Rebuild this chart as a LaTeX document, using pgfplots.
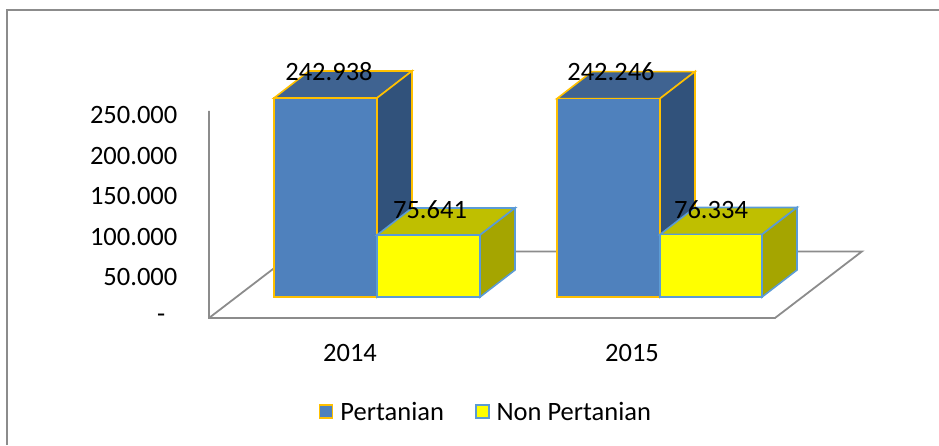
\documentclass[border=0pt]{standalone}
\usepackage{pgfplots}
\pgfplotsset{compat=1.18}
\usepackage{fontspec}
\setmainfont{Carlito}
\definecolor{fb}{HTML}{4F81BD}\definecolor{tb}{HTML}{3F6391}\definecolor{sb}{HTML}{31527B}
\definecolor{fy}{HTML}{FFFF00}\definecolor{ty}{HTML}{BFBF00}\definecolor{sy}{HTML}{A5A500}
\definecolor{eo}{HTML}{FFC000}\definecolor{eb}{HTML}{5B9BD5}\definecolor{gr}{HTML}{8C8C8C}
\newcommand{\fs}{\fontsize{26.5}{28}\selectfont}
\begin{document}
\begin{tikzpicture}
\useasboundingbox (0pt,0pt) rectangle (939pt,445pt);
\draw[gr,line width=2pt] (7pt,0pt) -- (7pt,435pt) -- (939pt,435pt);
% floor and wall axis: 0 lies at pixel row 318
\begin{axis}[at={(0pt,127pt)},anchor=south west,scale only axis,width=939pt,height=318pt,
  xmin=0,xmax=939,ymin=0,ymax=391600,clip=false,
  axis x line=bottom,axis y line=left,axis line style={draw=none},
  scaled y ticks=false,
  ytick={0,50000,100000,150000,200000,250000},
  yticklabels={\raisebox{-5pt}{-}\rule{12pt}{0pt},50.000,100.000,150.000,200.000,250.000},
  xtick={350,632},xticklabels={2014,2015},
  tick style={draw=none},
  ticklabel style={font=\fs},
  y tick label style={anchor=east,xshift=183pt},
  x tick label style={anchor=center,yshift=-33pt}]
\addplot[gr,line width=1.8pt] coordinates {(209,255000)(209,0)(775,0)(862,82000)(510,82000)};
\addplot[gr,line width=1.8pt] coordinates {(209,0)(296,82000)};
\end{axis}
% bars: value 0 lies at pixel row 297
\begin{axis}[at={(0pt,0pt)},anchor=south west,scale only axis,width=939pt,height=445pt,
  xmin=0,xmax=939,ymin=-180686,ymax=362593,axis lines=none,clip=false,
  scaled y ticks=false,
  legend columns=2,
  legend style={at={(0.5175,0.074)},anchor=center,draw=none,fill=none,
    font=\fs,/tikz/every even column/.style={column sep=29pt},
    /tikz/every odd column/.style={column sep=5pt}},
  legend image code/.code={\draw[#1,line width=1.6pt] (0pt,-6pt) rectangle (13pt,7pt);}]
% 2014 blue
\addplot[fill=tb,draw=eo,line width=1.6pt,forget plot] coordinates {(274,242938)(309,275900)(412,275900)(377,242938)} --cycle;
\addplot[fill=sb,draw=eo,line width=1.6pt,forget plot] coordinates {(377,0)(412,32963)(412,275900)(377,242938)} --cycle;
\addplot[fill=fb,draw=eo,line width=1.6pt] coordinates {(274,0)(377,0)(377,242938)(274,242938)} --cycle;
\addlegendentry{Pertanian}
% 2014 yellow
\addplot[fill=ty,draw=eb,line width=1.6pt,forget plot] coordinates {(377,75641)(412,108604)(515,108604)(480,75641)} --cycle;
\addplot[fill=sy,draw=eb,line width=1.6pt,forget plot] coordinates {(480,0)(515,32963)(515,108604)(480,75641)} --cycle;
\addplot[fill=fy,draw=eb,line width=1.6pt] coordinates {(377,0)(480,0)(480,75641)(377,75641)} --cycle;
\addlegendentry{Non Pertanian}
% 2015 blue
\addplot[fill=tb,draw=eo,line width=1.6pt,forget plot] coordinates {(557,242246)(592,275209)(695,275209)(660,242246)} --cycle;
\addplot[fill=sb,draw=eo,line width=1.6pt,forget plot] coordinates {(660,0)(695,32963)(695,275209)(660,242246)} --cycle;
\addplot[fill=fb,draw=eo,line width=1.6pt,forget plot] coordinates {(557,0)(660,0)(660,242246)(557,242246)} --cycle;
% 2015 yellow
\addplot[fill=ty,draw=eb,line width=1.6pt,forget plot] coordinates {(660,76334)(695,109297)(797,109297)(762,76334)} --cycle;
\addplot[fill=sy,draw=eb,line width=1.6pt,forget plot] coordinates {(762,0)(797,32963)(797,109297)(762,76334)} --cycle;
\addplot[fill=fy,draw=eb,line width=1.6pt,forget plot] coordinates {(660,0)(762,0)(762,76334)(660,76334)} --cycle;
\node[font=\fs] at (axis cs:329,274700) {242.938};
\node[font=\fs] at (axis cs:430,106500) {75.641};
\node[font=\fs] at (axis cs:611,274700) {242.246};
\node[font=\fs] at (axis cs:711,106500) {76.334};
\end{axis}
\end{tikzpicture}
\end{document}
